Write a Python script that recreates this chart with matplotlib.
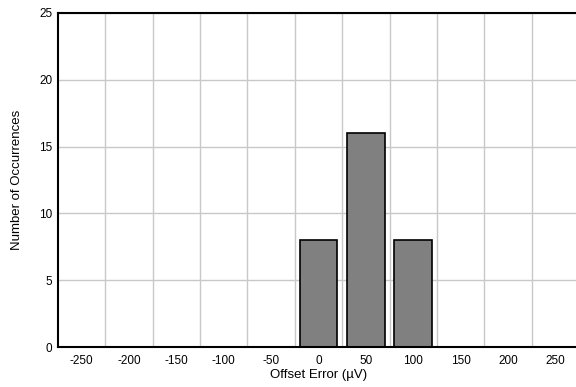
import matplotlib
matplotlib.use("Agg")
import matplotlib.pyplot as plt
import numpy as np

categories = [-250, -200, -150, -100, -50, 0, 50, 100, 150, 200, 250]
counts = [0, 0, 0, 0, 0, 8, 16, 8, 0, 0, 0]
yticks = [0, 5, 10, 15, 20, 25]

plt.rcParams['font.family'] = ['Liberation Sans', 'DejaVu Sans']
plt.rcParams['axes.unicode_minus'] = False

fig = plt.figure(figsize=(5.76, 3.87), dpi=100)
ax = fig.add_axes([58/576, 1-347/387, 521/576, (347-13)/387])

ax.bar(categories, counts, width=40, color='#808080', edgecolor='black', linewidth=1.2, zorder=3)

ax.set_xlim(-275, 275)
ax.set_ylim(0, 25)
ax.set_xticks(categories)
ax.set_xticks(np.array(categories[:-1]) + 25, minor=True)
ax.set_yticks(yticks)
ax.grid(True, which='minor', axis='x', color='#c8c8c8', linewidth=1.0, zorder=0)
ax.grid(True, which='major', axis='y', color='#c8c8c8', linewidth=1.0, zorder=0)
ax.tick_params(which='both', length=0, labelsize=8.5, pad=6)
ax.tick_params(axis='y', pad=4)

for s in ['left', 'bottom', 'top']:
    ax.spines[s].set_linewidth(1.5)
    ax.spines[s].set_color('black')
    ax.spines[s].set_zorder(4)
ax.spines['right'].set_visible(False)

ax.set_xlabel('Offset Error (\u00b5V)', fontsize=9.5, labelpad=1)
ax.set_ylabel('Number of Occurrences', fontsize=9.5, labelpad=12)

fig.savefig('out.png', dpi=100)
